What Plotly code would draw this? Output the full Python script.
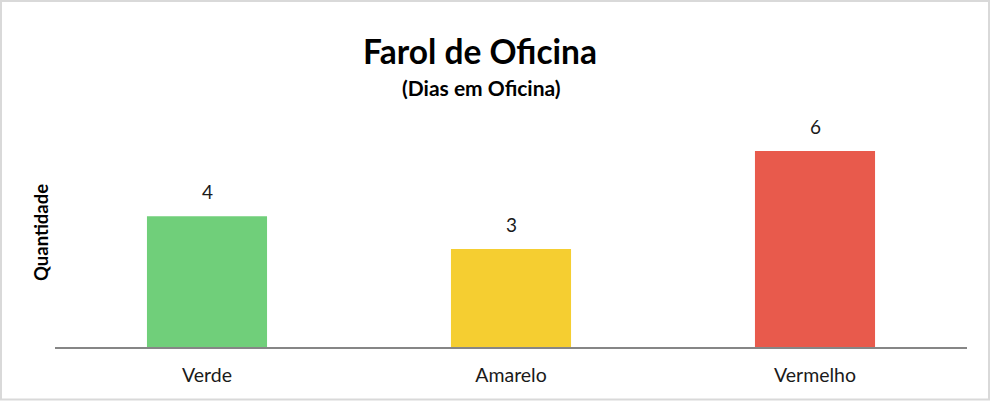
import plotly.graph_objects as go

categorias = ["Verde", "Amarelo", "Vermelho"]
quantidades = [4, 3, 6]
cores = ["#70CF7A", "#F5CE31", "#E85A4C"]

W, H = 992, 401
ML, MR, MT, MB = 55, 25, 118, 54
plot_w = W - ML - MR
plot_h = H - MT - MB

fonte = "Lato"

fig = go.Figure()
fig.add_trace(go.Bar(
    x=categorias,
    y=quantidades,
    marker=dict(color=cores, line=dict(width=0)),
    width=0.395,
    hoverinfo="skip",
    showlegend=False,
))

# rótulos de dados acima das barras
for c, v in zip(categorias, quantidades):
    fig.add_annotation(
        x=c, y=v, text=str(v), showarrow=False,
        yanchor="bottom", yshift=11,
        font=dict(family=fonte, size=19, color="#1a1a1a"),
    )

# subtitulo
fig.add_annotation(
    xref="paper", yref="paper",
    x=(481 - ML) / plot_w, y=(H - MB - 88) / plot_h,
    xanchor="center", yanchor="middle",
    text="<b>(Dias em Oficina)</b>", showarrow=False,
    font=dict(family=fonte, size=21, color="#000000"),
)

# titulo do eixo y
fig.add_annotation(
    xref="paper", yref="paper",
    x=(41 - ML) / plot_w, y=(H - MB - 233) / plot_h,
    xanchor="center", yanchor="middle",
    text="<b>Quantidade</b>", showarrow=False, textangle=-90,
    font=dict(family=fonte, size=18.5, color="#000000"),
)

# borda do gráfico
fig.add_shape(
    type="rect", xref="paper", yref="paper",
    x0=(1 - ML) / plot_w, x1=(989 - ML) / plot_w,
    y0=(H - MB - 399.5) / plot_h, y1=(H - MB - 1) / plot_h,
    line=dict(color="#D9D9D9", width=2),
)

fig.update_layout(
    width=W, height=H,
    margin=dict(l=ML, r=MR, t=MT, b=MB),
    paper_bgcolor="white", plot_bgcolor="white",
    title=dict(
        text="<b>Farol de Oficina</b>",
        x=(480 - ML) / plot_w, xanchor="center", xref="paper",
        y=1 - 52 / H, yanchor="middle",
        font=dict(family=fonte, size=33.5, color="#000000"),
    ),
    xaxis=dict(
        showline=True, linecolor="#868686", linewidth=1.5,
        showgrid=False, zeroline=False, ticks="",
        ticklabelstandoff=10,
        tickfont=dict(family=fonte, size=19.5, color="#1a1a1a"),
        fixedrange=True,
    ),
    yaxis=dict(
        range=[0, plot_h / 32.67],
        showgrid=False, zeroline=False, showticklabels=False,
        showline=False, fixedrange=True,
    ),
    bargap=0.605,
)

fig.write_html("out.html", config={"displayModeBar": False},
               post_script="document.body.style.margin='0';")
